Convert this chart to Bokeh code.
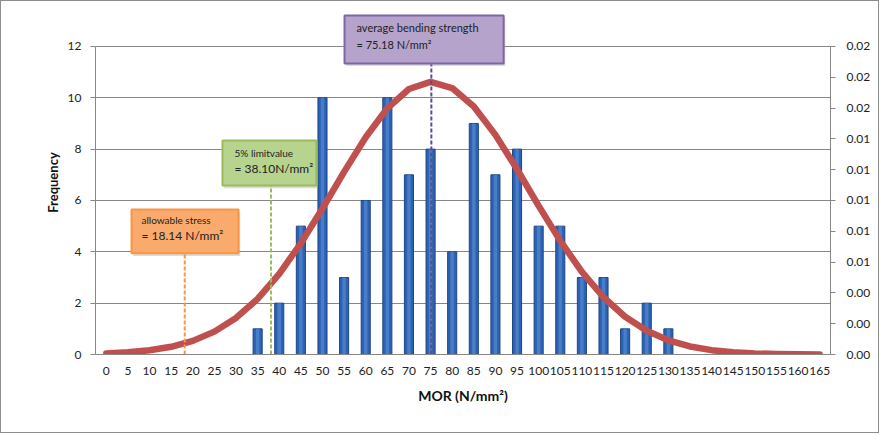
from bokeh.plotting import figure
from bokeh.models import (Range1d, LinearAxis, FixedTicker, NumeralTickFormatter,
                          BoxAnnotation, Label)
from bokeh.embed import file_html
from bokeh.resources import INLINE

# ---------------- data ----------------
categories = [0, 5, 10, 15, 20, 25, 30, 35, 40, 45, 50, 55, 60, 65, 70, 75, 80, 85,
              90, 95, 100, 105, 110, 115, 120, 125, 130, 135, 140, 145, 150, 155, 160, 165]
bar_mor = [35, 40, 45, 50, 55, 60, 65, 70, 75, 80, 85, 90, 95, 100, 105, 110, 115, 120, 125, 130]
frequency = [1, 2, 5, 10, 3, 6, 10, 7, 8, 4, 9, 7, 8, 5, 5, 3, 3, 1, 2, 1]
density = [0.000068, 0.000139, 0.000271, 0.000501, 0.000884, 0.001485, 0.002374, 0.003613,
           0.005236, 0.007221, 0.009482, 0.011855, 0.014108, 0.015984, 0.017239, 0.017699,
           0.017300, 0.016097, 0.014259, 0.012025, 0.009653, 0.007377, 0.005368, 0.003717,
           0.002451, 0.001538, 0.000919, 0.000523, 0.000283, 0.000146, 0.000072, 0.000034,
           0.000015, 0.000006]
left_ticks = [0, 2, 4, 6, 8, 10, 12]
right_ticks = [0.0, 0.002, 0.004, 0.006, 0.008, 0.010, 0.012, 0.014, 0.016, 0.018, 0.020]
marker_values = [18.14, 38.10, 75.18]
marker_titles = ["allowable stress", "5%  limitvalue", "average bending  strength"]
marker_texts = ["= 18.14 N/mm\u00b2", "= 38.10N/mm\u00b2", "= 75.18 N/mm\u00b2"]

FONT = "Lato"
GRID = "#878787"
Y_TOP = 13.4                     # room above the 12 gridline for the purple call-out
LEFT_MAX = 12
RIGHT_MAX = 0.02

p = figure(width=879, height=433, output_backend="svg", toolbar_location=None,
           x_range=Range1d(-2.5, 167.5), y_range=Range1d(0, Y_TOP),
           min_border_left=94, min_border_right=50, min_border_top=9, min_border_bottom=80)
p.outline_line_color = None
p.background_fill_color = "white"
p.border_fill_color = "white"
p.styles = {"border": "1px solid #8c8c8c"}

p.extra_y_ranges = {"pdf": Range1d(0, RIGHT_MAX * Y_TOP / LEFT_MAX)}

# grid
p.xgrid.grid_line_color = None
p.ygrid.grid_line_color = GRID
p.ygrid.grid_line_width = 1

# x axis
xa = p.xaxis[0]
xa.ticker = FixedTicker(ticks=categories)
xa.axis_line_color = GRID
xa.major_tick_line_color = None
xa.minor_tick_line_color = None
xa.major_tick_out = 0
xa.major_label_standoff = 12
xa.major_label_text_font = FONT
xa.major_label_text_font_size = "12px"
xa.major_label_text_color = "#222222"
xa.axis_label = "MOR (N/mm\u00b2)"
xa.axis_label_text_font = FONT
xa.axis_label_text_font_size = "14px"
xa.axis_label_text_font_style = "bold"
xa.axis_label_text_color = "#111111"
xa.axis_label_standoff = 9

# left axis
ya = p.yaxis[0]
ya.ticker = FixedTicker(ticks=left_ticks)
ya.bounds = (0, LEFT_MAX)
ya.axis_line_color = GRID
ya.major_tick_line_color = GRID
ya.major_tick_in = 0
ya.major_tick_out = 5
ya.minor_tick_line_color = None
ya.major_label_standoff = 9
ya.major_label_text_font = FONT
ya.major_label_text_font_size = "12px"
ya.major_label_text_color = "#222222"
ya.axis_label = "Frequency"
ya.axis_label_text_font = FONT
ya.axis_label_text_font_size = "13px"
ya.axis_label_text_font_style = "bold"
ya.axis_label_text_color = "#111111"
ya.axis_label_standoff = 4

# right axis
ra = LinearAxis(y_range_name="pdf", ticker=FixedTicker(ticks=right_ticks),
                formatter=NumeralTickFormatter(format="0.00"), bounds=(0, RIGHT_MAX))
ra.axis_line_color = GRID
ra.major_tick_line_color = GRID
ra.major_tick_in = 0
ra.major_tick_out = 5
ra.minor_tick_line_color = None
ra.major_label_standoff = 11
ra.major_label_text_font = FONT
ra.major_label_text_font_size = "12px"
ra.major_label_text_color = "#222222"
p.add_layout(ra, "right")

# bars
p.vbar(x=bar_mor, top=frequency, width=2.1, fill_color="#2D62B3", line_color="#1D4684",
       line_width=1)
p.vbar(x=bar_mor, top=frequency, width=0.8, fill_color="#5D93DB", line_color=None,
       fill_alpha=0.55)

# normal curve
p.line(x=categories, y=density, y_range_name="pdf", line_color="#C0504D", line_width=6.5,
       line_cap="round", line_join="round")

# annotation boxes and dashed markers
box_cfg = [
    # (left, right, bottom, top, fill, border, line color, line top)
    (5.83, 30.57, 3.94, 5.65, "#FAAA6C", "#F79646", "#F79646", 3.94),
    (26.87, 48.6, 6.58, 8.34, "#B7D48E", "#9BBB59", "#9BBB59", 6.58),
    (55.1, 91.9, 11.34, 13.21, "#B5A3CB", "#7F64A6", "#5F4A8B", 11.34),
]
text_cfg = [
    (8.14, 5.22, 4.62, "10px", "12px"),
    (29.65, 7.83, 7.23, "10px", "12px"),
    (57.87, 12.74, 12.08, "11px", "11px"),
]
for i, (l, r, b, t, fc, bc, lc, ltop) in enumerate(box_cfg):
    p.segment(x0=[marker_values[i]], y0=[0], x1=[marker_values[i]], y1=[ltop],
              line_color=lc, line_width=2, line_dash="4 2")
    p.add_layout(BoxAnnotation(left=l + 0.4, right=r + 0.4, bottom=b - 0.1, top=t - 0.1,
                               fill_color="#999999", fill_alpha=0.35, line_color=None))
    p.add_layout(BoxAnnotation(left=l, right=r, bottom=b, top=t, fill_color=fc, fill_alpha=1,
                               line_color=bc, line_width=2, line_alpha=1))
    tx, y1, y2, s1, s2 = text_cfg[i]
    p.add_layout(Label(x=tx, y=y1, text=marker_titles[i], text_font=FONT, text_font_size=s1,
                       text_baseline="middle", text_color="#222222"))
    p.add_layout(Label(x=tx, y=y2, text=marker_texts[i], text_font=FONT, text_font_size=s2,
                       text_baseline="middle", text_color="#222222"))

open("out.html", "w").write(file_html(p, INLINE))
